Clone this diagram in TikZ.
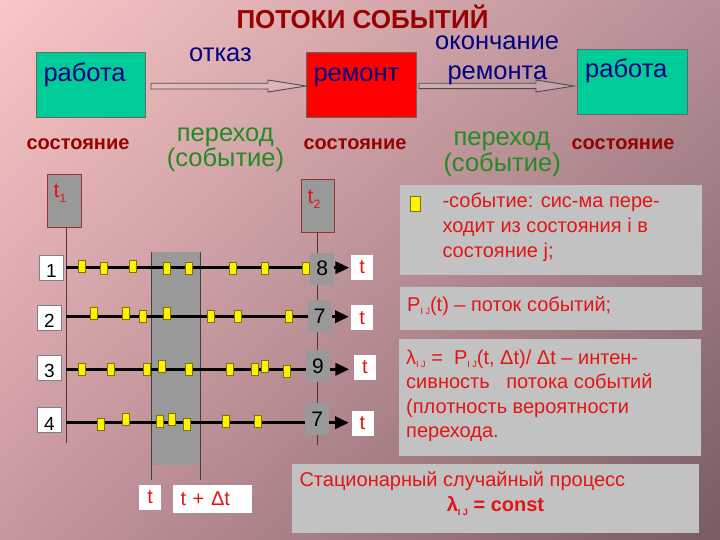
\documentclass[tikz,border=0pt]{standalone}
\usepackage{fontspec}
\setmainfont{Liberation Sans}
\usetikzlibrary{arrows.meta,calc,shadings}
\definecolor{bgUL}{RGB}{250,198,198}
\definecolor{bgUR}{RGB}{182,142,150}
\definecolor{bgLL}{RGB}{200,150,158}
\definecolor{bgLR}{RGB}{120,92,98}
\definecolor{titlered}{RGB}{153,0,0}
\definecolor{navy}{RGB}{0,0,128}
\definecolor{grn}{RGB}{34,140,34}
\definecolor{tealbox}{RGB}{0,204,153}
\definecolor{txtred}{RGB}{228,20,20}
\definecolor{midgray}{RGB}{153,153,153}
\definecolor{panelgray}{RGB}{194,194,194}
\definecolor{olivebd}{RGB}{120,120,0}
\definecolor{tborder}{RGB}{150,50,50}
\definecolor{vline}{RGB}{80,55,55}
\newcommand\subIJ{\raisebox{-0.35ex}{\fontsize{9}{9}\selectfont I J}}
\begin{document}
\begin{tikzpicture}[x=1pt,y=-1pt,
  txt/.style={inner sep=0pt, anchor=base west},
  fbig/.style={font=\fontsize{25.5}{30}\selectfont},
  statebox/.style={draw=black!60, line width=1, anchor=north west, inner sep=0},
  hollow/.style={draw=black!70, line width=0.9, fill=white, fill opacity=0.15},
  mk/.style={fill=yellow, draw=olivebd, line width=0.8, minimum width=7, minimum height=12, inner sep=0},
  rowline/.style={line width=3.5, -{Triangle[length=14pt,width=12pt]}},
  numbox/.style={draw=black!50, fill=white, line width=0.8, minimum width=24, minimum height=25, inner sep=0},
  numtxt/.style={inner sep=0, anchor=base, font=\fontsize{19}{19}\selectfont},
  cntbox/.style={fill=midgray, minimum width=24, minimum height=32, inner sep=0, font=\fontsize{21}{21}\selectfont},
  tbox/.style={fill=white, minimum width=22, minimum height=25, inner sep=0, text=txtred, font=\fontsize{20}{20}\selectfont},
  tlabel/.style={fill=midgray, draw=tborder, line width=1, anchor=north west, inner sep=0},
  vl/.style={draw=vline, line width=0.9},
  panel/.style={fill=panelgray, anchor=north west, inner sep=0},
  ptxt/.style={inner sep=0pt, anchor=base west, text=txtred, font=\fontsize{20}{24}\selectfont}
]
\useasboundingbox (0,0) rectangle (720,540);
\shade[upper left=bgUL, upper right=bgUR, lower left=bgLL, lower right=bgLR] (0,0) rectangle (720,540);

% title
\node[inner sep=0, anchor=base, text=titlered, font=\fontsize{26}{30}\selectfont\bfseries] (title) at (362.5,28.3) {ПОТОКИ СОБЫТИЙ};

% state boxes
\node[statebox, fill=tealbox, minimum width=109, minimum height=65] (w1) at (36,52) {};
\node[statebox, fill=red, minimum width=110, minimum height=65] (rep) at (306,52) {};
\node[statebox, fill=tealbox, minimum width=110, minimum height=65] (w2) at (577,49.5) {};
\node[txt, fbig, text=navy] (w1t) at (43.3,81.7) {работа};
\node[txt, fbig, text=navy] (rept) at (313.3,82) {ремонт};
\node[txt, fbig, text=navy] (w2t) at (585,77.7) {работа};

% hollow arrows
\draw[hollow] (151,83.3) -- (268,83.3) -- (268,80) -- (306,86) -- (268,92) -- (268,89) -- (151,89) -- cycle;
\draw[hollow] (419,83.3) -- (536,83.3) -- (536,80) -- (574,86) -- (536,92) -- (536,88.7) -- (419,88.7) -- cycle;

\node[txt, fbig, text=navy] (otk) at (189,61.7) {отказ};
\node[txt, fbig, text=navy] (ok1) at (435,50) {окончание};
\node[txt, fbig, text=navy] (ok2) at (447.3,79.3) {ремонта};

\node[txt, fbig, text=grn] (pe1) at (176.7,141.7) {переход};
\node[txt, fbig, text=grn] (so1) at (166.7,166.5) {(событие)};
\node[txt, fbig, text=grn] (pe2) at (453.3,145.5) {переход};
\node[txt, fbig, text=grn] (so2) at (443.3,172) {(событие)};

\node[inner sep=0, anchor=base, text=titlered, font=\fontsize{20}{24}\selectfont\bfseries] (st1) at (78,150) {состояние};
\node[inner sep=0, anchor=base, text=titlered, font=\fontsize{20}{24}\selectfont\bfseries] (st2) at (355,150) {состояние};
\node[inner sep=0, anchor=base, text=titlered, font=\fontsize{20}{24}\selectfont\bfseries] (st3) at (623,150) {состояние};

% time window column
\fill[midgray] (151.7,252.3) rectangle (200.7,465);
\coordinate (cl1) at (151.7,252.3); \coordinate (cl2) at (151.7,480);
\coordinate (cr1) at (200.7,252.3); \coordinate (cr2) at (200.7,480);
\draw[vl, draw=black!75] (cl1) -- (cl2);
\draw[vl, draw=black!75] (cr1) -- (cr2);

% t1, t2 labels
\node[tlabel, minimum width=34, minimum height=53] (t1) at (46.7,174.3) {};
\node[tlabel, minimum width=33.6, minimum height=53] (t2) at (300.7,179.3) {};
\node[txt, text=txtred, font=\fontsize{21}{21}\selectfont] at (53.5,198) {t\raisebox{-0.45ex}{\fontsize{12}{12}\selectfont 1}};
\node[txt, text=txtred, font=\fontsize{21}{21}\selectfont] at (307.5,204) {t\raisebox{-0.45ex}{\fontsize{12}{12}\selectfont 2}};
\coordinate (t1e) at (66,442.7);
\coordinate (t2e) at (317.3,445);
\draw[vl] (t1.south -| t1e) -- (t1e);
\draw[vl] (t2.south -| t2e) -- (t2e);

% row lines
\coordinate (r1s) at (66,267.7); \coordinate (r1e) at (349.3,267.7);
\coordinate (r2s) at (66,316.7); \coordinate (r2e) at (349,316.7);
\coordinate (r3s) at (66,369.3); \coordinate (r3e) at (349.3,369.3);
\coordinate (r4s) at (66,422.7); \coordinate (r4e) at (349,422.7);
\draw[rowline] (r1s) -- (r1e);
\draw[rowline] (r2s) -- (r2e);
\draw[rowline] (r3s) -- (r3e);
\draw[rowline] (r4s) -- (r4e);

% events
\foreach \x/\y in {81.7/266, 104/268.7, 133.3/266, 167.3/268.7, 189.3/268.7, 233.3/268.7, 265/268.7, 306/268.7}
  \node[mk] at (\x,\y) {};
\foreach \x/\y in {94/313.3, 126/313, 142.7/316, 166.7/313, 211/316, 238/316, 289/316}
  \node[mk] at (\x,\y) {};
\foreach \x/\y in {81.7/369.3, 110.7/369.3, 147.3/369.3, 162.3/366.7, 189.3/369.3, 230.3/369.3, 254.7/369.3, 265/366.7, 286.7/371.7}
  \node[mk] at (\x,\y) {};
\foreach \x/\y in {101.3/424, 125.7/419.3, 160/421.7, 172/419.3, 186.7/424, 226/421.7, 257.7/421.7}
  \node[mk] at (\x,\y) {};

% row numbers
\node[numbox] (n1) at (51.3,267.5) {};
\node[numbox] (n2) at (49.5,317.5) {};
\node[numbox] (n3) at (49.5,367.5) {};
\node[numbox] (n4) at (49.5,420.2) {};
\node[numtxt] at ([yshift=3]n1.south) {1};
\node[numtxt] at ([yshift=3]n2.south) {2};
\node[numtxt] at ([yshift=3]n3.south) {3};
\node[numtxt] at ([yshift=3]n4.south) {4};

% counts
\node[cntbox] (c1) at (322.1,268.6) {8};
\node[cntbox] (c2) at (319.7,316.3) {7};
\node[cntbox] (c3) at (318,365.8) {9};
\node[cntbox] (c4) at (317.2,418.8) {7};

% t boxes
\node[tbox] (tb1) at (362.2,267.5) {t};
\node[tbox] (tb2) at (362.2,317.8) {t};
\node[tbox] (tb3) at (365,367.5) {t};
\node[tbox] (tb4) at (362.5,423.3) {t};

\node[tbox] (tt) at (150.2,497.5) {t};
\node[tbox, minimum width=78.4, minimum height=27.7, text width=64, align=left, inner xsep=7] (tdt) at (212.5,498.8) {t + Δt};

% panels
\node[panel, minimum width=302, minimum height=90.5] (p1) at (400,184.5) {};
\node[mk, minimum width=10, minimum height=15] (leg) at (415.7,204.2) {};
\node[ptxt] at (442.3,207.7) {-событие: сис-ма пере-};
\node[ptxt] at (442.3,233) {ходит из состояния i в};
\node[ptxt] at (442.3,257) {состояние j;};

\node[panel, minimum width=302, minimum height=43] (p2) at (400,286.7) {};
\node[ptxt] at (407,311) {P\subIJ(t) – поток событий;};

\node[panel, minimum width=302, minimum height=117] (p3) at (398.3,338.3) {};
\node[ptxt] at (406,364) {λ\subIJ\ =\ \ P\subIJ(t, Δt)/ Δt – интен-};
\node[ptxt] at (406,388.3) {сивность\ \ \ потока событий};
\node[ptxt] at (406,413.3) {(плотность вероятности};
\node[ptxt] at (406,437) {перехода.};

\node[panel, minimum width=407, minimum height=69.5] (p4) at (291.7,463.3) {};
\node[ptxt] at (299.3,486.7) {Стационарный случайный процесс};
\node[inner sep=0, anchor=base, text=txtred, font=\fontsize{20}{24}\selectfont\bfseries] at (495.5,511.7) {λ\subIJ\ = const};
\end{tikzpicture}
\end{document}
